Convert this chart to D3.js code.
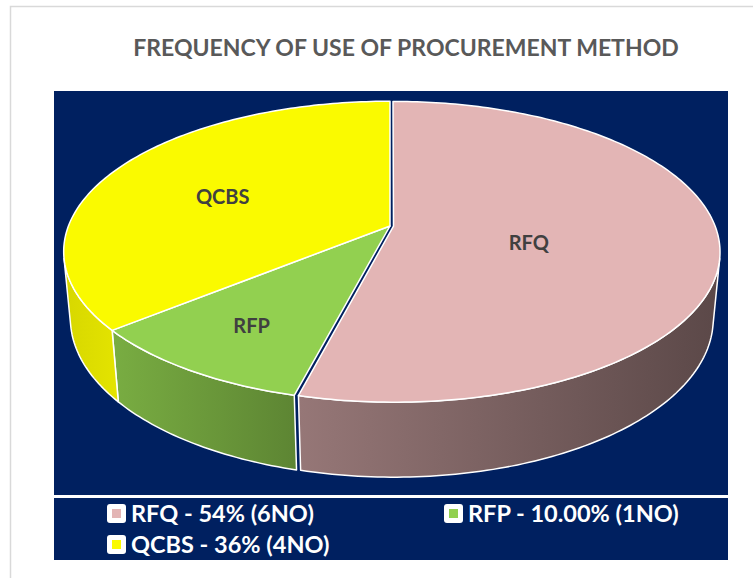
<!doctype html>
<html lang="en">
<head>
<meta charset="UTF-8">
<title>Frequency of use of procurement method</title>
<style type="text/css">
body {
  margin: 0;
  padding: 0;
  background: #ffffff;
  font-family: 'Lato', 'Open Sans', sans-serif;
}
svg { display: block; }
</style>
<script type="text/javascript" src="https://cdn.jsdelivr.net/npm/d3@7"></script>
</head>
<body>
<div id="chart"></div>
<script type="text/javascript">

var methods = ['RFQ', 'RFP', 'QCBS'];
var shares = [54, 10, 36];
var counts = [6, 1, 4];
var shareLabels = ['54%', '10.00%', '36%'];
var titleText = 'FREQUENCY OF USE OF PROCUREMENT METHOD';

var sliceColors = ['#E3B5B5', '#92D050', '#FAFA00'];
// side shading, left edge -> right edge
var sideShade = [[0.66, 0.40], [0.83, 0.64], [0.86, 0.91]];
var explode = [0.011, 0, 0];
var labelRadius = [0.42, 0.72, 0.6];
var labelShift = [9, 1, 7];

var W = 753, H = 578;

// simple perspective view of a disk
var cx = 390, cy = 226;
var tilt = 27 * Math.PI / 180;
var sinA = Math.sin(tilt), cosA = Math.cos(tilt);
var camDist = 5.24, focal = 1685, thick = 0.235;

function project(x, z, h) {
  var v = z * sinA - h * cosA;
  var w = z * cosA + h * sinA;
  var s = focal / (camDist - w);
  return [cx + x * s, cy + v * s];
}

function rimPoints(a1, a2, h, off) {
  var n = Math.max(2, Math.ceil((a2 - a1) / (Math.PI / 180)));
  var pts = [];
  for (var i = 0; i <= n; i++) {
    var a = a1 + (a2 - a1) * i / n;
    pts.push(project(Math.sin(a) + off[0], -Math.cos(a) + off[1], h));
  }
  return pts;
}

function shade(color, k) {
  var c = d3.rgb(color);
  return d3.rgb(c.r * k, c.g * k, c.b * k).formatHex();
}

var svg = d3.select('#chart').append('svg')
  .attr('width', W)
  .attr('height', H);

var defs = svg.append('defs');

svg.append('rect')
  .attr('x', 10.5).attr('y', 6.5)
  .attr('width', 800).attr('height', 620)
  .attr('fill', '#ffffff')
  .attr('stroke', '#D9D9D9')
  .attr('stroke-width', 1.5);

svg.append('text')
  .attr('x', 406)
  .attr('y', 56)
  .attr('text-anchor', 'middle')
  .style('font-size', '23px')
  .style('font-weight', 'bold')
  .attr('fill', '#595959')
  .text(titleText);

svg.append('rect')
  .attr('x', 54).attr('y', 91)
  .attr('width', 674).attr('height', 404)
  .attr('fill', '#002060');

svg.append('rect')
  .attr('x', 54).attr('y', 498)
  .attr('width', 674).attr('height', 62)
  .attr('fill', '#002060');

var pie = d3.pie().sort(null).value(function(d) { return d; });
var arcs = pie(shares);

var visLo = Math.acos(-1 / (camDist * cosA));
var visHi = 2 * Math.PI - visLo;
var line = d3.line();

var slices = arcs.map(function(a, i) {
  var mid = (a.startAngle + a.endAngle) / 2;
  var off = [Math.sin(mid) * explode[i], -Math.cos(mid) * explode[i]];
  return { arc: a, i: i, mid: mid, off: off };
});

var sides = svg.append('g');
var tops = svg.append('g');

slices.forEach(function(s) {
  var a1 = Math.max(s.arc.startAngle, visLo);
  var a2 = Math.min(s.arc.endAngle, visHi);
  if (a2 <= a1) return;
  var upper = rimPoints(a1, a2, 0, s.off);
  var lower = rimPoints(a1, a2, -thick, s.off).reverse();
  var pts = upper.concat(lower);
  var xs = pts.map(function(p) { return p[0]; });

  var gid = 'side' + s.i;
  var grad = defs.append('linearGradient')
    .attr('id', gid)
    .attr('gradientUnits', 'userSpaceOnUse')
    .attr('x1', d3.min(xs)).attr('x2', d3.max(xs))
    .attr('y1', 0).attr('y2', 0);
  grad.append('stop').attr('offset', 0)
    .attr('stop-color', shade(sliceColors[s.i], sideShade[s.i][0]));
  grad.append('stop').attr('offset', 1)
    .attr('stop-color', shade(sliceColors[s.i], sideShade[s.i][1]));

  sides.append('path')
    .attr('d', line(pts) + 'Z')
    .attr('fill', 'url(#' + gid + ')')
    .attr('stroke', '#ffffff')
    .attr('stroke-width', 1.5)
    .attr('stroke-linejoin', 'round');
});

slices.forEach(function(s) {
  var centre = project(s.off[0], s.off[1], 0);
  var pts = [centre].concat(rimPoints(s.arc.startAngle, s.arc.endAngle, 0, s.off));
  tops.append('path')
    .attr('d', line(pts) + 'Z')
    .attr('fill', sliceColors[s.i])
    .attr('stroke', '#ffffff')
    .attr('stroke-width', 1.5)
    .attr('stroke-linejoin', 'round');
});

function labelPos(s) {
  var r = labelRadius[s.i];
  var p = project(Math.sin(s.mid) * r + s.off[0], -Math.cos(s.mid) * r + s.off[1], 0);
  return [p[0], p[1] + labelShift[s.i]];
}

svg.append('g').selectAll('text')
  .data(slices)
  .join('text')
  .attr('x', function(s) { return labelPos(s)[0]; })
  .attr('y', function(s) { return labelPos(s)[1]; })
  .attr('dy', '0.35em')
  .attr('text-anchor', 'middle')
  .attr('fill', '#404040')
  .style('font-size', '20px')
  .style('font-weight', 'bold')
  .text(function(s) { return methods[s.i]; });

// legend
var legendCol = [107, 444];
var legendRow = [504, 535];
var legend = svg.append('g').selectAll('g')
  .data(methods)
  .join('g')
  .attr('transform', function(d, i) {
    return 'translate(' + legendCol[i % 2] + ',' + legendRow[Math.floor(i / 2)] + ')';
  });

legend.append('rect')
  .attr('width', 19).attr('height', 19)
  .attr('rx', 3)
  .attr('fill', '#ffffff');

legend.append('rect')
  .attr('x', 5).attr('y', 5)
  .attr('width', 9).attr('height', 9)
  .attr('fill', function(d, i) { return sliceColors[i]; });

legend.append('text')
  .attr('x', 24)
  .attr('y', 18)
  .attr('fill', '#ffffff')
  .style('font-size', '23.5px')
  .style('font-weight', 'bold')
  .text(function(d, i) { return d + ' - ' + shareLabels[i] + ' (' + counts[i] + 'NO)'; });

</script>
</body>
</html>
